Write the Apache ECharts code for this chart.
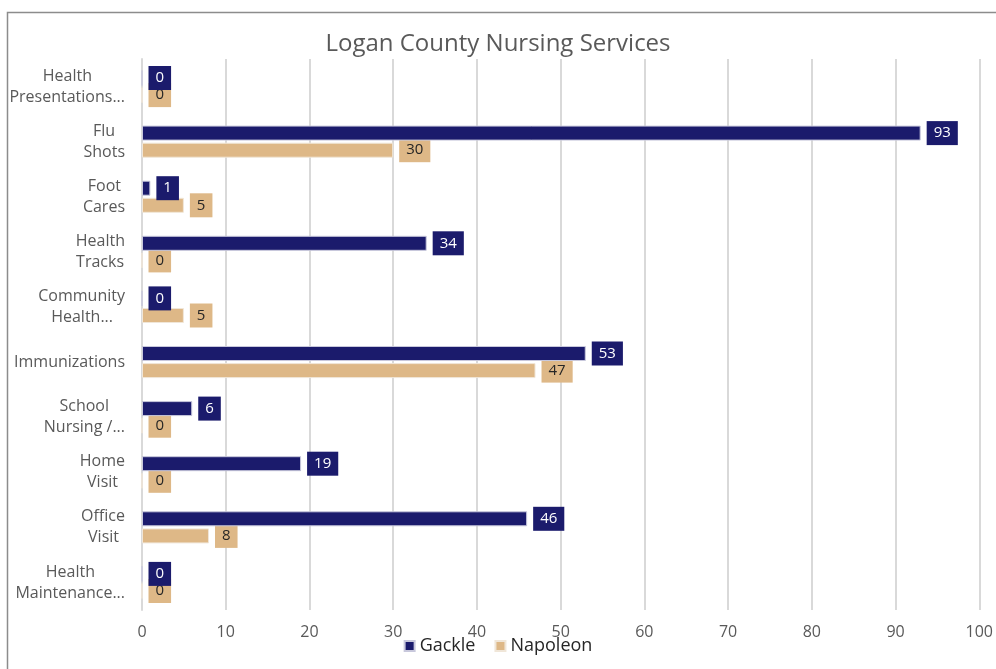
<!DOCTYPE html>
<html>
<head>
<meta charset="utf-8">
<title>Logan County Nursing Services</title>
<script src="https://cdn.jsdelivr.net/npm/echarts@6/dist/echarts.min.js"></script>
<style>
  html, body { margin: 0; padding: 0; background: #fff; }
  #chart { width: 996px; height: 669px; }
</style>
</head>
<body>
<div id="chart"></div>
<script>
// categories, top to bottom as shown
var categories = [
  "Health\nPresentations...",
  "Flu\nShots",
  "Foot\nCares",
  "Health\nTracks",
  "Community\nHealth...",
  "Immunizations",
  "School\nNursing /...",
  "Home\nVisit",
  "Office\nVisit",
  "Health\nMaintenance..."
];
var gackle = [0, 93, 1, 34, 0, 53, 6, 19, 46, 0];
var napoleon = [0, 30, 5, 0, 5, 47, 0, 0, 8, 0];
var xTicks = [0, 10, 20, 30, 40, 50, 60, 70, 80, 90, 100];

var fontFam = "'Open Sans', sans-serif";
var navy = "#1b1b6c";
var tan = "#deb887";
var labelSize = 16;

// y labels: lines centred inside a right-aligned block (as excel does it)
var ctx = document.createElement("canvas").getContext("2d");
ctx.font = labelSize + "px " + fontFam;
var rich = {};
categories.forEach(function (c, i) {
  var lines = c.split("\n");
  var widths = lines.map(function (ln) { return ctx.measureText(ln).width; });
  var w = Math.max.apply(null, widths);
  lines.forEach(function (ln, j) {
    rich["c" + i + "_" + j] = {
      padding: [0, Math.round((w - widths[j]) / 2), 0, 0],
      fontSize: labelSize,
      lineHeight: 21,
      color: "#595959",
      fontFamily: fontFam
    };
  });
});

var chart = echarts.init(document.getElementById("chart"));
var option = {
  backgroundColor: "#fff",
  animation: false,
  title: {
    text: "Logan County Nursing Services",
    left: "center",
    top: 27,
    textStyle: { fontSize: 24, fontWeight: "normal", color: "#595959", fontFamily: fontFam }
  },
  legend: {
    bottom: 9,
    left: "center",
    itemWidth: 10,
    itemHeight: 10,
    itemGap: 19,
    icon: "rect",
    textStyle: { fontSize: 18, color: "#262626", fontFamily: fontFam },
    data: ["Gackle", "Napoleon"]
  },
  grid: { left: 142, right: 16, top: 59, bottom: 59 },
  xAxis: {
    type: "value",
    min: 0,
    max: 100,
    interval: 10,
    axisLine: { show: false },
    axisTick: { show: false },
    splitLine: { show: true, lineStyle: { color: "#d9d9d9", width: 2 } },
    axisLabel: {
      fontSize: labelSize,
      color: "#595959",
      fontFamily: fontFam,
      margin: 14,
      formatter: function (v) { return xTicks.indexOf(v) >= 0 ? String(v) : ""; }
    }
  },
  yAxis: {
    type: "category",
    inverse: true,
    data: categories,
    axisTick: { show: false },
    axisLine: { show: true, lineStyle: { color: "#d9d9d9", width: 2 } },
    axisLabel: {
      margin: 17,
      formatter: function (v, i) {
        return v.split("\n").map(function (ln, j) {
          return "{c" + i + "_" + j + "|" + ln + "}";
        }).join("\n");
      },
      rich: rich
    }
  },
  series: [
    {
      name: "Gackle",
      type: "bar",
      data: gackle,
      barWidth: 15,
      barGap: "14%",
      z: 3,
      itemStyle: { color: navy, borderColor: "#c8c8dc", borderWidth: 1 },
      label: {
        show: true,
        position: "right",
        distance: 6,
        backgroundColor: navy,
        padding: [5, 7, 4, 7],
        color: "#ffffff",
        fontSize: 15,
        fontFamily: fontFam
      }
    },
    {
      name: "Napoleon",
      type: "bar",
      data: napoleon,
      barWidth: 15,
      barGap: "14%",
      z: 2,
      itemStyle: { color: tan, borderColor: "#f0e6d8", borderWidth: 1 },
      label: {
        show: true,
        position: "right",
        distance: 6,
        backgroundColor: tan,
        padding: [5, 7, 4, 7],
        color: "#262626",
        fontSize: 15,
        fontFamily: fontFam
      }
    }
  ],
  graphic: [
    {
      type: "rect",
      left: 5,
      top: 10,
      shape: { width: 1000, height: 700 },
      style: { fill: "none", stroke: "#8c8c8c", lineWidth: 1.5 },
      silent: true,
      z: -10
    }
  ]
};
chart.setOption(option);
</script>
</body>
</html>
